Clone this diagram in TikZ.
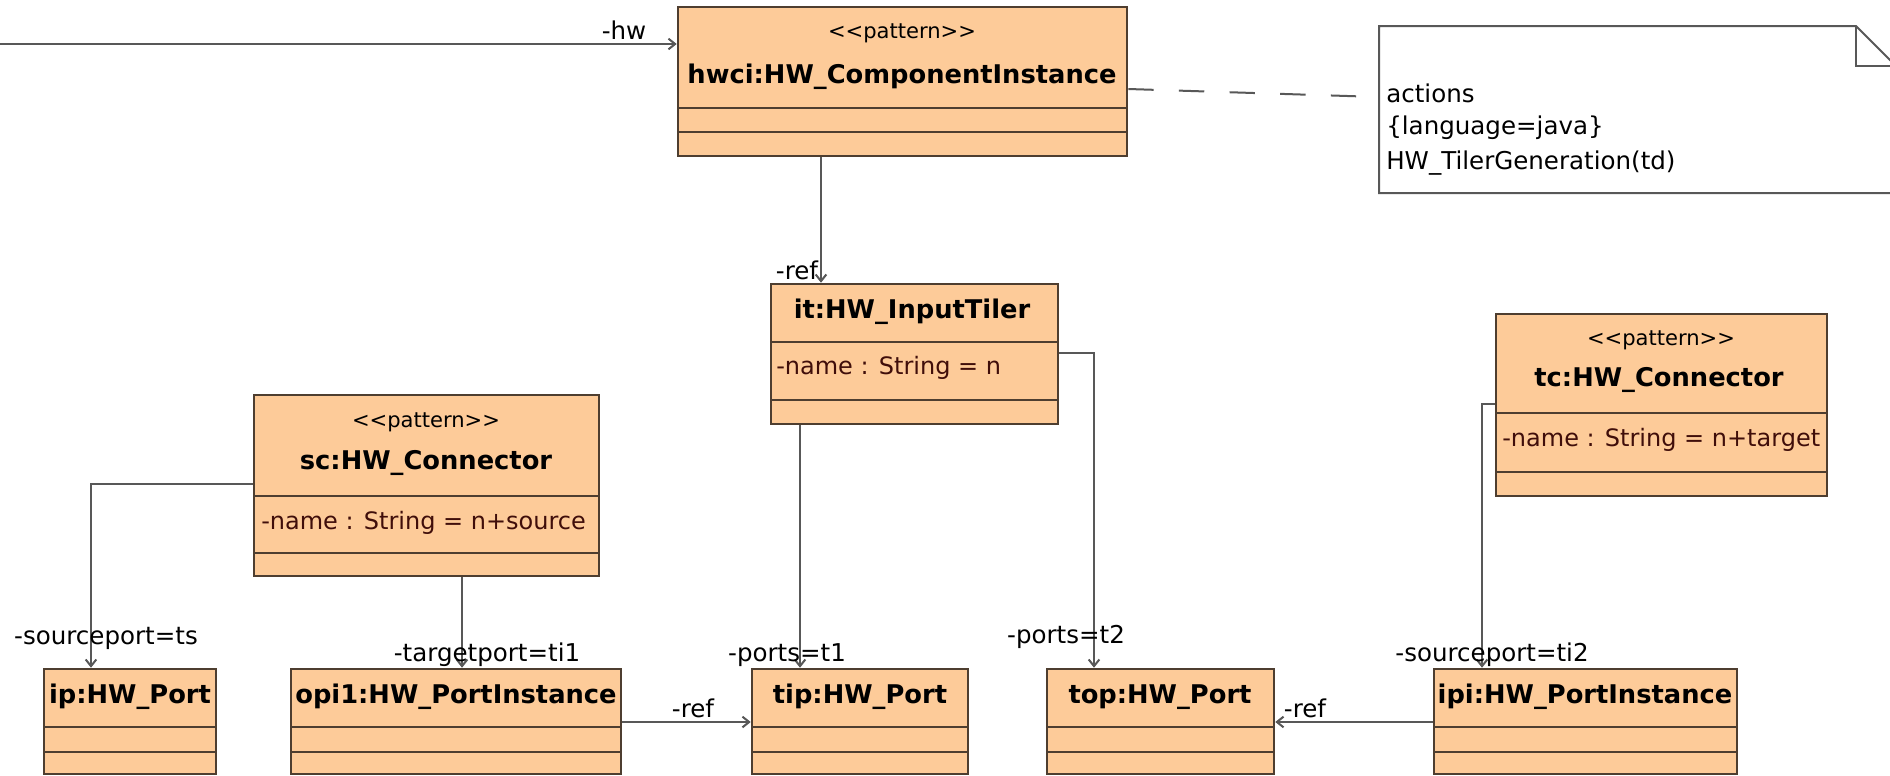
\documentclass[tikz,border=0pt]{standalone}
\usepackage{fontspec}
\setmainfont{DejaVu Sans}
\usetikzlibrary{arrows.meta,fit}
\definecolor{classfill}{RGB}{253,203,153}
\definecolor{classline}{RGB}{78,62,48}
\definecolor{wire}{RGB}{88,88,88}
\definecolor{attrtext}{RGB}{64,14,10}
% stereotype text; the kerns keep << and >> from turning into guillemets
\newcommand\patternster{<\kern0pt<pattern>\kern0pt>}
\begin{document}
\begin{tikzpicture}[x=0.75pt,y=-0.75pt,
  cls/.style={draw=classline, fill=classfill, line width=1.9pt, inner sep=0pt},
  div/.style={draw=classline, line width=1.7pt},
  cname/.style={font=\fontsize{19.3}{23}\selectfont\bfseries, text=black, inner sep=0pt},
  stereo/.style={font=\fontsize{15.8}{19}\selectfont, inner sep=0pt},
  attr/.style={font=\fontsize{18}{22}\selectfont, text=attrtext, inner sep=0pt, anchor=west},
  lbl/.style={font=\fontsize{18.4}{22}\selectfont, inner sep=0pt},
  conn/.style={draw=wire, line width=1.5pt, -{Straight Barb[length=5pt,width=8pt]}},
  memo/.style={draw=wire, fill=white, line width=1.5pt},
  link/.style={draw=wire, line width=1.5pt, dash pattern=on 19pt off 19pt},
]
\useasboundingbox (0,0) rectangle (1890,775);
\clip (0,0) rectangle (1890,775);

% ---- class boxes ----
\node[cls, fit={(678,7) (1127,156)}] (hwci) {};
\draw[div] (678,108) -- (1127,108) (678,132) -- (1127,132);
\node[stereo] (hwci-st) at (902,33) {\patternster};
\node[cname] (hwci-nm) at (902,77) {hwci:HW\_ComponentInstance};

\node[cls, fit={(771,284) (1058,424)}] (it) {};
\draw[div] (771,342) -- (1058,342) (771,400) -- (1058,400);
\node[cname] (it-nm) at (912,312) {it:HW\_InputTiler};
\node[attr] (it-at) at (776,368) {-name : String = n};

\node[cls, fit={(254,395) (599,576)}] (sc) {};
\draw[div] (254,496) -- (599,496) (254,553) -- (599,553);
\node[stereo] (sc-st) at (426,422) {\patternster};
\node[cname] (sc-nm) at (426,463) {sc:HW\_Connector};
\node[attr] (sc-at) at (261,523) {-name : String = n+source};

\node[cls, fit={(1496,314) (1827,496)}] (tc) {};
\draw[div] (1496,413) -- (1827,413) (1496,472) -- (1827,472);
\node[stereo] (tc-st) at (1661,340) {\patternster};
\node[cname] (tc-nm) at (1659,380) {tc:HW\_Connector};
\node[attr] (tc-at) at (1502,440) {-name : String = n+target};

% bottom row of ports
\node[cls, fit={(44,669) (216,774)}] (ip) {};
\draw[div] (44,727) -- (216,727) (44,752) -- (216,752);
\node[cname] (ip-nm) at (130,697) {ip:HW\_Port};

\node[cls, fit={(291,669) (621,774)}] (opi1) {};
\draw[div] (291,727) -- (621,727) (291,752) -- (621,752);
\node[cname] (opi1-nm) at (456,697) {opi1:HW\_PortInstance};

\node[cls, fit={(752,669) (968,774)}] (tip) {};
\draw[div] (752,727) -- (968,727) (752,752) -- (968,752);
\node[cname] (tip-nm) at (860,697) {tip:HW\_Port};

\node[cls, fit={(1047,669) (1274,774)}] (top) {};
\draw[div] (1047,727) -- (1274,727) (1047,752) -- (1274,752);
\node[cname] (top-nm) at (1160,697) {top:HW\_Port};

\node[cls, fit={(1434,669) (1737,774)}] (ipi) {};
\draw[div] (1434,727) -- (1737,727) (1434,752) -- (1737,752);
\node[cname] (ipi-nm) at (1585,697) {ipi:HW\_PortInstance};

% ---- note with folded corner ----
\draw[memo] (1379,26) -- (1856,26) -- (1896,66) -- (1896,193) -- (1379,193) -- cycle;
\draw[memo, fill=none] (1856,26) -- (1856,66) -- (1896,66);
\node[inner sep=0pt, fit={(1379,26) (1896,193)}] (note) {};
\node[lbl, anchor=west] (note-1) at (1386,93) {actions};
\node[lbl, anchor=west] (note-2) at (1386,128) {\{language=java\}};
\node[lbl, anchor=west] (note-3) at (1386,163) {HW\_TilerGeneration(td)};

% ---- bend points of the connectors ----
\coordinate (hwsrc) at (0,44);
\coordinate (xref) at (821,0);
\coordinate (xt1) at (800,0);
\coordinate (bt2) at (1094,353);
\coordinate (bts) at (91,484);
\coordinate (xti1) at (462,0);
\coordinate (bti2) at (1482,404);
\coordinate (yref) at (0,722);
\coordinate (ynoteA) at (0,89);
\coordinate (ynoteB) at (0,97);

% ---- connectors ----
\draw[conn] (hwsrc) -- (hwsrc -| hwci.west);
\draw[conn] (hwci.south -| xref) -- (it.north -| xref);
\draw[conn] (it.south -| xt1) -- (tip.north -| xt1);
\draw[conn] (it.east |- bt2) -- (bt2) -- (top.north -| bt2);
\draw[conn] (sc.west |- bts) -- (bts) -- (ip.north -| bts);
\draw[conn] (sc.south -| xti1) -- (opi1.north -| xti1);
\draw[conn] (tc.west |- bti2) -- (bti2) -- (ipi.north -| bti2);
\draw[conn] (opi1.east |- yref) -- (tip.west |- yref);
\draw[conn] (ipi.west |- yref) -- (top.east |- yref);
\draw[link] (hwci.east |- ynoteA) -- (note.west |- ynoteB);

% ---- role labels ----
\node[lbl] (l-hw) at (624,30) {-hw};
\node[lbl] (l-ref1) at (797,270) {-ref};
\node[lbl] (l-t1) at (787,655) {-ports=t1};
\node[lbl] (l-t2) at (1066,637) {-ports=t2};
\node[lbl] (l-ts) at (106,638) {-sourceport=ts};
\node[lbl] (l-ti1) at (487,655) {-targetport=ti1};
\node[lbl] (l-ti2) at (1492,655) {-sourceport=ti2};
\node[lbl] (l-ref2) at (693,708) {-ref};
\node[lbl] (l-ref3) at (1305,708) {-ref};
\end{tikzpicture}
\end{document}
